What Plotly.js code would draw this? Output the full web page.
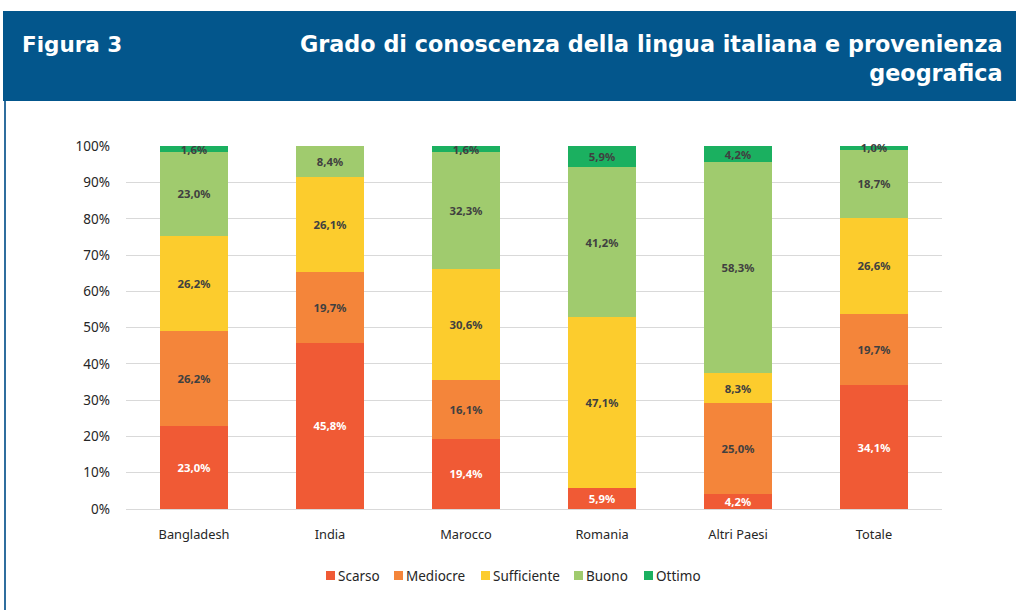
<!DOCTYPE html>
<html>
<head>
<meta charset="utf-8">
<script src="https://cdn.plot.ly/plotly-3.0.1.min.js"></script>
<style>html,body{margin:0;padding:0;background:#fff;}#chart{width:1016px;height:610px;}</style>
</head>
<body>
<div id="chart"></div>
<script>
const categories = ["Bangladesh", "India", "Marocco", "Romania", "Altri Paesi", "Totale"];
const seriesNames = ["Scarso", "Mediocre", "Sufficiente", "Buono", "Ottimo"];
const scarso      = [23.0, 45.8, 19.4, 5.9, 4.2, 34.1];
const mediocre    = [26.2, 19.7, 16.1, 0, 25.0, 19.7];
const sufficiente = [26.2, 26.1, 30.6, 47.1, 8.3, 26.6];
const buono       = [23.0, 8.4, 32.3, 41.2, 58.3, 18.7];
const ottimo      = [1.6, 0, 1.6, 5.9, 4.2, 1.0];
const yTicks = [0, 10, 20, 30, 40, 50, 60, 70, 80, 90, 100];

const colors = ["#f05a35", "#f4853a", "#fccc2d", "#a0cb6e", "#1bb060"];
const labelColors = ["#ffffff", "#404040", "#404040", "#404040", "#404040"];
const allSeries = [scarso, mediocre, sufficiente, buono, ottimo];

function fmt(v) { return v > 0 ? v.toFixed(1).replace('.', ',') + '%' : ''; }

const traces = allSeries.map((vals, i) => ({
  type: 'bar',
  name: seriesNames[i],
  x: categories,
  y: vals,
  text: vals.map(fmt),
  textposition: 'inside',
  insidetextanchor: 'middle',
  constraintext: 'none',
  textangle: 0,
  cliponaxis: false,
  textfont: {family: 'Noto Sans, sans-serif', size: 11.3, color: labelColors[i], weight: 'bold'},
  marker: {color: colors[i], line: {width: 0}},
  showlegend: false,
  hoverinfo: 'skip'
}));

const W = 1016, H = 610;
const L = 126, R = 942, T = 146, B = 509;
const px = v => (v - L) / (R - L);
const py = v => (B - v) / (B - T);

// compact legend (square + label), as in the reference
const legendX = [326, 394, 481, 574, 644];
const legendShapes = seriesNames.map((n, i) => ({
  type: 'rect', xref: 'paper', yref: 'paper',
  x0: px(legendX[i]), x1: px(legendX[i] + 9), y0: py(580), y1: py(571),
  fillcolor: colors[i], line: {width: 0}
}));
const legendAnn = seriesNames.map((n, i) => ({
  xref: 'paper', yref: 'paper', x: px(legendX[i] + 10), y: py(576),
  xanchor: 'left', yanchor: 'middle', showarrow: false, text: n,
  font: {family: 'Noto Sans, sans-serif', size: 13.5, color: '#262626'}
}));

const layout = {
  width: W, height: H,
  margin: {l: L, r: W - R, t: T, b: H - B, pad: 0},
  barmode: 'stack',
  bargap: 0.5,
  paper_bgcolor: '#ffffff',
  plot_bgcolor: '#ffffff',
  showlegend: false,
  font: {family: 'Noto Sans, sans-serif', color: '#404040'},
  xaxis: {
    type: 'category',
    tickfont: {size: 12.8, color: '#262626'},
    ticks: '',
    ticklabelstandoff: 16,
    showgrid: false,
    showline: false,
    zeroline: false,
    fixedrange: true
  },
  yaxis: {
    range: [0, 100.12],
    tickvals: yTicks,
    ticktext: yTicks.map(v => v + '%'),
    tickfont: {size: 13.5, color: '#262626'},
    ticks: '',
    ticklabelstandoff: 15,
    showgrid: true,
    gridcolor: '#d9d9d9',
    gridwidth: 1,
    zeroline: true,
    zerolinecolor: '#d9d9d9',
    zerolinewidth: 1,
    showline: false,
    fixedrange: true
  },
  shapes: [
    {type: 'rect', xref: 'paper', yref: 'paper', x0: px(3), x1: px(1016), y0: py(101), y1: py(11),
     fillcolor: '#03568c', line: {width: 0}, layer: 'below'},
    {type: 'line', xref: 'paper', yref: 'paper', x0: px(5), x1: px(5), y0: py(101), y1: py(612),
     line: {color: '#2f6e9e', width: 2}}
  ].concat(legendShapes),
  annotations: [
    {xref: 'paper', yref: 'paper', x: px(20), y: py(44), xanchor: 'left', yanchor: 'middle',
     text: 'Figura 3', showarrow: false,
     font: {family: 'DejaVu Sans, sans-serif', size: 21.5, color: '#ffffff', weight: 'bold'}},
    {xref: 'paper', yref: 'paper', x: px(1004), y: py(58), xanchor: 'right', yanchor: 'middle',
     align: 'right',
     text: 'Grado di conoscenza della lingua italiana e provenienza<br>geografica', showarrow: false,
     font: {family: 'DejaVu Sans, sans-serif', size: 22.3, color: '#ffffff', weight: 'bold'}}
  ].concat(legendAnn)
};

Plotly.newPlot('chart', traces, layout, {displayModeBar: false, staticPlot: true});
</script>
</body>
</html>
